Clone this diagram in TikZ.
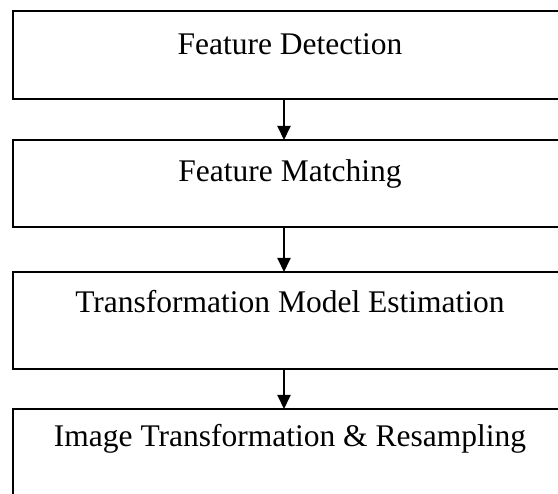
\documentclass[tikz,border=0pt]{standalone}
\usepackage{fontspec}
\setmainfont{Liberation Serif}
\usetikzlibrary{arrows.meta}
\begin{document}
\begin{tikzpicture}[x=1pt,y=-1pt,
  box/.style={draw=black, line width=2pt, anchor=north west, minimum width=600pt, inner sep=0pt, outer sep=0pt},
  txt/.style={font=\fontsize{31.5}{38}\selectfont, inner sep=0pt, anchor=base},
  arr/.style={line width=2pt, -{Triangle[width=13pt,length=14pt]}}]
\useasboundingbox (0,0) rectangle (558,494);
\node[box, minimum height=88pt] (b1) at (13,11) {};
\node[box, minimum height=87pt] (b2) at (13,140) {};
\node[box, minimum height=97pt] (b3) at (13,272) {};
\node[box, minimum height=120pt] (b4) at (13,409) {};
\node[txt] (t1) at (290,55) {Feature Detection};
\node[txt] (t2) at (290,182) {Feature Matching};
\node[txt] (t3) at (290,313) {Transformation Model Estimation};
\node[txt] (t4) at (290,447) {Image Transformation \& Resampling};
\coordinate (ax) at (284,0);
\draw[arr] (b1.south -| ax) -- (b2.north -| ax);
\draw[arr] (b2.south -| ax) -- (b3.north -| ax);
\draw[arr] (b3.south -| ax) -- (b4.north -| ax);
\end{tikzpicture}
\end{document}
